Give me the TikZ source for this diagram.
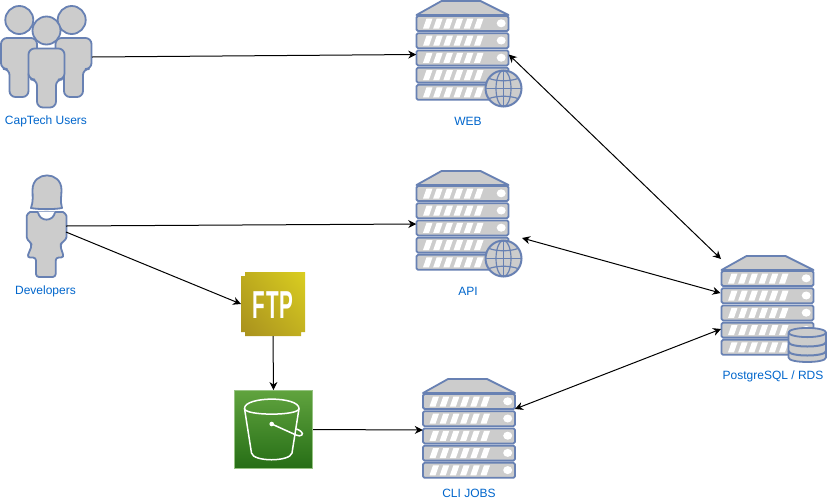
\documentclass[tikz,border=0pt]{standalone}
\usepackage{fontspec}
\setmainfont{Liberation Sans}
\usetikzlibrary{arrows.meta,shadings}
\definecolor{iconline}{HTML}{6881B3}
\definecolor{iconfill}{HTML}{CCCCCC}
\definecolor{labelblue}{HTML}{0066CC}
\definecolor{ftpll}{HTML}{A8901E}
\definecolor{ftpur}{HTML}{DACE20}
\definecolor{ftpul}{HTML}{BEAC1E}
\definecolor{ftplr}{HTML}{C2B020}
\definecolor{sthree}{HTML}{60A33E}
\definecolor{sthreeb}{HTML}{266E16}
\definecolor{sthreeln}{HTML}{96C382}
\tikzset{
  x=1pt,y=-1pt,
  icon/.style={draw=iconline,fill=iconfill,line width=1.8pt,line join=round},
  iconbox/.style={inner sep=0pt,outer sep=0pt,minimum width=#1},
  label/.style={text=labelblue,font=\fontsize{12}{13}\selectfont,inner sep=0pt},
  conn/.style={draw=black,line width=1pt,-{Stealth[length=8pt,width=8pt]}},
  conntwo/.style={draw=black,line width=1pt,{Stealth[length=8pt,width=8pt]}-{Stealth[length=8pt,width=8pt]}},
}
\newcommand{\srvicon}[2]{%
  \begin{scope}[shift={(#1,#2)}]
    \draw[icon] (0,15) -- (25,1) -- (64,1) -- (92,15) -- cycle;
    \foreach \yy in {16,33.2,50.4,67.6,84.8}{
      \draw[icon,rounded corners=1.5pt] (0,\yy) rectangle (92,\yy+15);
      \foreach \i in {0,...,5}{
        \fill[white] (6.5+10.2*\i,\yy+12.5) -- (12.5+10.2*\i,\yy+12.5) -- (16+10.2*\i,\yy+2.5) -- (10+10.2*\i,\yy+2.5) -- cycle;
      }
      \fill[white] (84.7,\yy+7.3) ellipse [x radius=4.5,y radius=4];
    }
  \end{scope}}
\newcommand{\globeicon}[2]{%
  \begin{scope}[shift={(#1,#2)}]
    \fill[iconfill] (0,0) circle [radius=18];
    \begin{scope}[draw=iconline,line width=1.2pt]
      \draw (0,0) ellipse [x radius=7.5,y radius=18];
      \draw (0,-18) -- (0,18);
      \draw (-18,0) -- (18,0);
      \draw (-14.5,-10) .. controls (-6,-7) and (6,-7) .. (14.5,-10);
      \draw (-14.5,10) .. controls (-6,7) and (6,7) .. (14.5,10);
    \end{scope}
    \draw[draw=iconline,line width=2pt] (0,0) circle [radius=18];
  \end{scope}}
\newcommand{\personicon}[4]{%
  % head x, head y, body x, shoulder y
  \draw[icon] (#1,#2) circle [radius=14];
  \begin{scope}[shift={(#3,#4)}]
    \draw[icon,rounded corners=6pt] (0,0) -- (18,0) -- (18,31) -- (9.5,31) -- (9.5,59) -- (-9.5,59) -- (-9.5,31) -- (-18,31) -- (-18,0) -- cycle;
  \end{scope}}
\begin{document}
\begin{tikzpicture}
\path[use as bounding box,fill=white] (0,0) rectangle (827,499);

% --- users ---
\personicon{19.3}{20}{19}{38}
\personicon{71.7}{20}{73.5}{38}
\personicon{46.5}{30.5}{46.5}{48.5}
\node[iconbox=92,minimum height=114] (users) at (46,57) {};
\node[label] (userslabel) at (46,121) {CapTech Users};

% --- developer ---
\draw[icon] (32.5,190) .. controls (32.5,170.5) and (61.5,170.5) .. (61.5,190)
  .. controls (61.5,196) and (60,201) .. (62,208) .. controls (55,209.5) and (38,209.5) .. (31,208)
  .. controls (33.5,201) and (32.5,196) .. (32.5,190) -- cycle;
\draw[icon,rounded corners=3pt] (46,212) -- (60,212) .. controls (64,212) and (66.5,215) .. (66.5,219) -- (66.5,234) .. controls (66.5,238) and (65,240) .. (62.5,242) -- (60,245) -- (64,257.5) -- (55.7,257.5) -- (55.7,277) -- (36,277) -- (36,257.5) -- (27,257.5) -- (32,245) -- (30,242) .. controls (28,240) and (26.7,238) .. (26.7,234) -- (26.7,219) .. controls (26.7,215) and (29,212) .. (33,212) -- cycle;
\fill[white] (38,211.5) .. controls (40,222) and (53,222) .. (55,211.5) -- cycle;
\draw[draw=iconline,line width=1.8pt] (38,212.5) .. controls (40,222) and (53,222) .. (55,212.5);
\node[iconbox=39,minimum height=104] (dev) at (46.5,226) {};
\node[label] (devlabel) at (45.5,291.5) {Developers};

% --- servers ---
\srvicon{416.5}{0}
\globeicon{503.5}{88.5}
\node[iconbox=92.5,minimum height=108] (web) at (462.5,54.5) {};
\node[label] (weblabel) at (468,121) {WEB};

\srvicon{416.5}{170}
\globeicon{503.5}{258.5}
\node[iconbox=92.5,minimum height=108] (api) at (462.5,224) {};
\coordinate (apiglobe) at (522,238);
\node[label] (apilabel) at (468,291) {API};

\srvicon{423}{378}
\node[iconbox=92.5,minimum height=104] (cli) at (469,430) {};
\coordinate (clie) at (515,409);
\node[label] (clilabel) at (469,493) {CLI JOBS};

\srvicon{721.5}{255}
\draw[icon,fill=iconfill] (788.5,332.5) -- (788.5,357.5) .. controls (788.5,363.5) and (826,363.5) .. (826,357.5) -- (826,332.5);
\draw[icon] (807.3,332.5) ellipse [x radius=18.8,y radius=4.6];
\draw[draw=iconline,line width=2pt] (788.5,342) .. controls (788.5,348) and (826,348) .. (826,342);
\draw[draw=iconline,line width=2pt] (788.5,351) .. controls (788.5,357) and (826,357) .. (826,351);
\node[iconbox=93,minimum height=108] (pg) at (768,309) {};
\coordinate (pgtop) at (721,259);
\coordinate (pgmid) at (720.5,293);
\coordinate (pglow) at (721,329);
\node[label] (pglabel) at (773,376) {PostgreSQL / RDS};

% --- FTP ---
\shade[lower left=ftpll,upper right=ftpur,upper left=ftpul,lower right=ftplr]
  (245,272) -- (305,272) -- (305,332) -- (301,332) -- (301,336) -- (245,336) -- (245,332) -- (241,332) -- (241,276) -- (245,276) -- cycle;
\node[iconbox=64,minimum height=64] (ftp) at (273,304) {};
\node[text=white,font=\bfseries\fontsize{39}{39}\selectfont,inner sep=0pt,xscale=.53,yscale=1] (ftptext) at (273,305) {F\kern2pt T\kern2pt P};

% --- S3 ---
\shade[top color=sthree,bottom color=sthreeb,draw=sthreeln,line width=.6pt] (234.5,390.5) rectangle (312.5,468.5);
\node[iconbox=79,minimum height=79] (s3) at (273.5,429.5) {};
\begin{scope}[draw=white,line width=1.5pt]
  \draw (244.5,408.5) .. controls (244.5,396) and (299,396) .. (299,408.5) .. controls (299,416) and (244.5,416) .. (244.5,408.5) -- cycle;
  \draw (244.5,408.5) -- (251.5,453) .. controls (253,462) and (290,462) .. (292,453) -- (299,408.5);
  \draw[line cap=round] (271.7,424) -- (296,435) .. controls (301,437.5) and (304.5,434) .. (301,431.5) .. controls (300,430.5) and (298,429.5) .. (296.5,429);
  \fill[white] (271.7,424) circle [radius=2.3];
\end{scope}

% --- connectors ---
\draw[conn] (users.east) -- (web.west);
\draw[conn] (dev.east) -- (api.west);
\draw[conn] ([yshift=-6pt]dev.east) -- (ftp.west);
\draw[conn] (ftp.south) -- (s3.north);
\draw[conn] (s3.east) -- (cli.west);
\draw[conntwo] (web.east) -- (pgtop);
\draw[conntwo] (apiglobe) -- (pgmid);
\draw[conntwo] (clie) -- (pglow);
\end{tikzpicture}
\end{document}
